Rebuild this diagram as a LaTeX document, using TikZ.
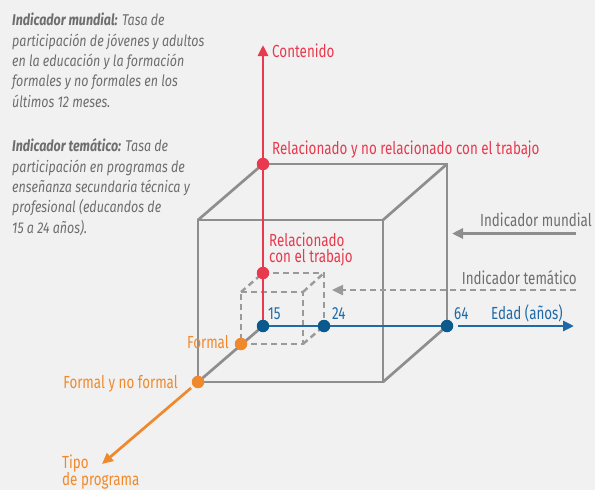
\documentclass[tikz,border=0pt]{standalone}
\usepackage{fontspec}
\setmainfont{Fira Sans}[FakeStretch=0.8]
\newfontfamily\lblfont{Fira Sans}[FakeStretch=0.765]
\usetikzlibrary{arrows.meta}
\definecolor{bg}{HTML}{F1F1F1}
\definecolor{cubegray}{HTML}{8E8E8E}
\definecolor{dashgray}{HTML}{9A9A9A}
\definecolor{txtgray}{HTML}{6E6E6E}
\definecolor{axred}{HTML}{E8394F}
\definecolor{axblue}{HTML}{1F6AA6}
\definecolor{dotblue}{HTML}{0B5A8E}
\definecolor{axorange}{HTML}{F0892C}
\tikzset{
  edge/.style={draw=cubegray,line width=2.7pt},
  dashedge/.style={draw=dashgray,line width=2.4pt,dash pattern=on 6pt off 4pt},
  tip/.style={-{Triangle[length=11pt,width=10pt]}},
  dotstyle/.style={circle,inner sep=0pt,minimum size=12.5pt},
  reddot/.style={dotstyle,fill=axred},
  bluedot/.style={dotstyle,fill=dotblue},
  orangedot/.style={dotstyle,fill=axorange},
  lbl/.style={inner sep=0pt,font=\lblfont\fontsize{17.5}{17.5}\selectfont},
  sidetxt/.style={inner sep=0pt,anchor=base west,text=txtgray,font=\fontsize{15.6}{20}\selectfont\itshape},
}
\begin{document}
\begin{tikzpicture}[x=1pt,y=-1pt]
\fill[bg] (0,0) rectangle (595,490);
\useasboundingbox (0,0) rectangle (595,490);
% big cube corners
\coordinate (BTL) at (263,164);
\coordinate (BTR) at (447,164);
\coordinate (BBR) at (447,326);
\coordinate (BBL) at (263,326);
\coordinate (FTL) at (198,220);
\coordinate (FTR) at (383,220);
\coordinate (FBR) at (383,382);
\coordinate (FBL) at (198,382);
% small cube corners
\coordinate (sBTL) at (263,273);
\coordinate (sBTR) at (324,273);
\coordinate (sBBR) at (324,326);
\coordinate (sBBL) at (263,326);
\coordinate (sFTL) at (241,292);
\coordinate (sFTR) at (303,292);
\coordinate (sFBR) at (303,344);
\coordinate (sFBL) at (241,344);
% big cube edges
\draw[edge] (FTL) -- (FTR) -- (FBR) -- (FBL) -- cycle;
\draw[edge] (BTL) -- (BTR) -- (BBR);
\draw[edge] (BTL) -- (FTL);
\draw[edge] (BTR) -- (FTR);
\draw[edge] (BBR) -- (FBR);
\draw[edge] (BBL) -- (FBL);
% small dashed cube
\draw[dashedge] (sFTL) -- (sFTR) -- (sFBR) -- (sFBL) -- cycle;
\draw[dashedge] (sFTL) -- (sBTL);
\draw[dashedge] (sFTR) -- (sBTR);
\draw[dashedge] (sFBR) -- (sBBR);
\draw[dashedge] (sBTL) -- (sBTR) -- (sBBR);
% indicator arrows
\coordinate (imS) at (576,233.5);
\coordinate (imE) at (452,233.5);
\draw[draw=cubegray,line width=2.7pt,tip,color=cubegray] (imS) -- (imE);
\coordinate (itS) at (576,290);
\coordinate (itE) at (332,290);
\draw[dashgray,line width=2.4pt,dash pattern=on 6pt off 4pt,-{Triangle[length=11pt,width=10pt]}] (itS) -- (itE);
% red axis
\coordinate (redtip) at (263,45);
\draw[axred,line width=2.7pt,tip] (BBL) -- (redtip);
% blue axis
\draw[axblue,line width=2.7pt] (BBL) -- (BBR);
\coordinate (blS) at (458,326);
\coordinate (blE) at (574,326);
\draw[axblue,line width=2.7pt,tip] (blS) -- (blE);
% orange axis
\coordinate (orS) at (191,388);
\coordinate (orE) at (102,464);
\draw[axorange,line width=2.7pt,tip] (orS) -- (orE);
% dots
\node[reddot] (r1) at (BTL) {};
\node[reddot] (r2) at (sBTL) {};
\node[bluedot] (b15) at (BBL) {};
\node[bluedot] (b24) at (sBBR) {};
\node[bluedot] (b64) at (BBR) {};
\node[orangedot] (o1) at (sFBL) {};
\node[orangedot] (o2) at (FBL) {};
% labels
\node[lbl,text=axred,anchor=base west] (lcont) at (272,57) {Contenido};
\node[lbl,text=axred,anchor=base west] (lrel1) at (272,154) {Relacionado y no relacionado con el trabajo};
\node[lbl,text=axred,anchor=base west] (lrel2a) at (269,246) {Relacionado};
\node[lbl,text=axred,anchor=base west] (lrel2b) at (269,262.5) {con el trabajo};
\node[lbl,text=axblue,anchor=base west] (l15) at (268,319) {15};
\node[lbl,text=axblue,anchor=base west] (l24) at (332,319) {24};
\node[lbl,text=axblue,anchor=base west] (l64) at (454,319) {64};
\node[lbl,text=axblue,anchor=base west] (ledad) at (491,319) {Edad (años)};
\node[lbl,text=axorange,anchor=base east] (lform) at (229,348) {Formal};
\node[lbl,text=axorange,anchor=base east] (lfnf) at (178,388.5) {Formal y no formal};
\node[lbl,text=axorange,anchor=base west] (ltipo1) at (62,468) {Tipo};
\node[lbl,text=axorange,anchor=base west] (ltipo2) at (62,485.5) {de programa};
\node[lbl,text=txtgray,anchor=base east] (lim) at (592,226.7) {Indicador mundial};
\node[lbl,text=txtgray,anchor=base east] (lit) at (577,284) {Indicador temático};
% side text
\node[sidetxt] (s1) at (12,25.7) {{\bfseries Indicador mundial:} Tasa de};
\node[sidetxt] (s2) at (12,46.1) {participación de jóvenes y adultos};
\node[sidetxt] (s3) at (12,66.5) {en la educación y la formación};
\node[sidetxt] (s4) at (12,86.9) {formales y no formales en los};
\node[sidetxt] (s5) at (12,107.3) {últimos 12 meses.};
\node[sidetxt] (s6) at (12,151.7) {{\bfseries Indicador temático:} Tasa de};
\node[sidetxt] (s7) at (12,172.1) {participación en programas de};
\node[sidetxt] (s8) at (12,192.5) {enseñanza secundaria técnica y};
\node[sidetxt] (s9) at (12,212.9) {profesional (educandos de};
\node[sidetxt] (s10) at (12,233.3) {15 a 24 años).};
\end{tikzpicture}
\end{document}
